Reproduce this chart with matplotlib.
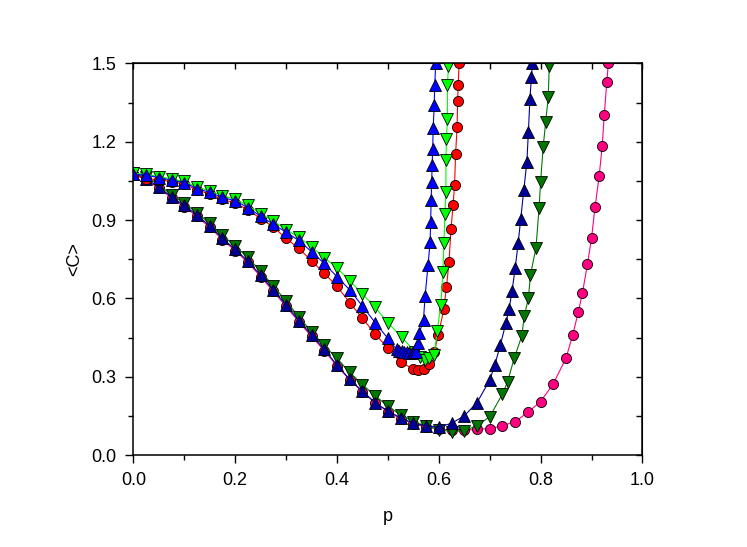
import numpy as np
import matplotlib
matplotlib.use('Agg')
import matplotlib.pyplot as plt
from matplotlib.ticker import MultipleLocator

plt.rcParams['font.family'] = ['Liberation Sans', 'DejaVu Sans']

# upper branch
p_red = [0, 0.025, 0.05, 0.075, 0.1, 0.125, 0.15, 0.175, 0.2, 0.225, 0.25, 0.275, 0.3,
         0.325, 0.35, 0.375, 0.4, 0.425, 0.45, 0.475, 0.5, 0.525, 0.55, 0.56, 0.57, 0.581,
         0.591, 0.599, 0.61, 0.615, 0.62, 0.624, 0.628, 0.631, 0.633, 0.636, 0.637, 0.638, 0.64]
c_red = [1.075, 1.058, 1.055, 1.047, 1.038, 1.015, 1.0, 0.98, 0.965, 0.94, 0.906, 0.874, 0.83,
         0.792, 0.744, 0.696, 0.647, 0.584, 0.524, 0.464, 0.409, 0.356, 0.33, 0.326, 0.33, 0.348,
         0.393, 0.46, 0.56, 0.642, 0.738, 0.866, 0.956, 1.033, 1.152, 1.258, 1.355, 1.416, 1.5]

p_blue = [0, 0.025, 0.05, 0.075, 0.1, 0.125, 0.15, 0.175, 0.2, 0.225, 0.25, 0.275, 0.3,
          0.325, 0.35, 0.375, 0.4, 0.425, 0.45, 0.475, 0.5, 0.517, 0.522, 0.527, 0.532, 0.537,
          0.542, 0.547, 0.552, 0.556, 0.56, 0.562, 0.57, 0.573, 0.579, 0.583, 0.584, 0.585,
          0.586, 0.587, 0.588, 0.589, 0.591, 0.592, 0.594]
c_blue = [1.076, 1.072, 1.063, 1.053, 1.044, 1.021, 1.006, 0.987, 0.974, 0.948, 0.915, 0.884, 0.854,
          0.822, 0.779, 0.734, 0.683, 0.633, 0.571, 0.507, 0.447, 0.405, 0.4, 0.397, 0.395, 0.393,
          0.392, 0.392, 0.393, 0.396, 0.43, 0.468, 0.519, 0.608, 0.729, 0.818, 0.894, 0.977,
          1.047, 1.11, 1.174, 1.254, 1.34, 1.416, 1.5]

p_lgreen = [0, 0.025, 0.05, 0.075, 0.1, 0.125, 0.15, 0.175, 0.2, 0.225, 0.25, 0.275, 0.3,
            0.325, 0.35, 0.375, 0.4, 0.425, 0.45, 0.475, 0.5, 0.527, 0.553, 0.563, 0.573, 0.581,
            0.591, 0.597, 0.604, 0.608, 0.61, 0.612, 0.614, 0.614, 0.615, 0.617, 0.617, 0.619]
c_lgreen = [1.08, 1.075, 1.067, 1.058, 1.048, 1.027, 1.012, 0.994, 0.98, 0.956, 0.925, 0.896, 0.864,
            0.834, 0.798, 0.756, 0.717, 0.668, 0.617, 0.566, 0.507, 0.452, 0.396, 0.377, 0.364, 0.37,
            0.384, 0.475, 0.576, 0.7, 0.812, 0.922, 1.009, 1.13, 1.209, 1.289, 1.416, 1.492]

# lower branch
p_navy = [0, 0.025, 0.05, 0.075, 0.1, 0.125, 0.15, 0.175, 0.2, 0.225, 0.25, 0.275, 0.3,
          0.325, 0.35, 0.375, 0.4, 0.425, 0.45, 0.475, 0.5, 0.525, 0.55, 0.575, 0.6, 0.625,
          0.65, 0.675, 0.7, 0.71, 0.721, 0.732, 0.738, 0.744, 0.75, 0.756, 0.761, 0.767,
          0.773, 0.776, 0.779, 0.782, 0.784]
c_navy = [1.078, 1.059, 1.027, 0.989, 0.957, 0.919, 0.878, 0.83, 0.788, 0.743, 0.689, 0.632, 0.575,
          0.515, 0.46, 0.405, 0.345, 0.29, 0.245, 0.201, 0.169, 0.143, 0.122, 0.112, 0.107, 0.122,
          0.15, 0.201, 0.287, 0.345, 0.422, 0.507, 0.558, 0.63, 0.715, 0.813, 0.906, 1.015,
          1.123, 1.237, 1.365, 1.448, 1.5]

p_dgreen = [0, 0.025, 0.05, 0.075, 0.1, 0.125, 0.15, 0.175, 0.2, 0.225, 0.25, 0.275, 0.3,
            0.325, 0.35, 0.375, 0.4, 0.425, 0.45, 0.475, 0.5, 0.525, 0.55, 0.575, 0.6, 0.625,
            0.65, 0.675, 0.7, 0.725, 0.735, 0.748, 0.763, 0.768, 0.776, 0.78, 0.791, 0.797,
            0.8, 0.805, 0.81, 0.815, 0.817]
c_dgreen = [1.08, 1.065, 1.035, 0.997, 0.965, 0.928, 0.888, 0.842, 0.8, 0.757, 0.704, 0.648, 0.59,
            0.53, 0.472, 0.42, 0.37, 0.317, 0.27, 0.227, 0.188, 0.154, 0.128, 0.112, 0.097, 0.09,
            0.094, 0.112, 0.147, 0.234, 0.28, 0.37, 0.456, 0.534, 0.6, 0.69, 0.795, 0.948,
            1.046, 1.18, 1.276, 1.371, 1.492]

p_pink = [0, 0.025, 0.05, 0.075, 0.1, 0.125, 0.15, 0.175, 0.2, 0.225, 0.25, 0.275, 0.3,
          0.325, 0.35, 0.375, 0.4, 0.425, 0.45, 0.475, 0.5, 0.525, 0.55, 0.575, 0.6, 0.625,
          0.65, 0.675, 0.7, 0.725, 0.75, 0.775, 0.8, 0.825, 0.85, 0.863, 0.874, 0.882, 0.892,
          0.9, 0.907, 0.915, 0.921, 0.925, 0.93, 0.933]
c_pink = [1.075, 1.055, 1.022, 0.985, 0.952, 0.914, 0.873, 0.825, 0.783, 0.738, 0.684, 0.627, 0.57,
          0.51, 0.455, 0.4, 0.342, 0.288, 0.242, 0.2, 0.166, 0.14, 0.12, 0.108, 0.1, 0.096,
          0.095, 0.099, 0.101, 0.113, 0.128, 0.164, 0.205, 0.273, 0.372, 0.46, 0.547, 0.619,
          0.731, 0.83, 0.951, 1.068, 1.184, 1.301, 1.429, 1.5]

fig = plt.figure(figsize=(7.47, 5.47), dpi=100)
ax = fig.add_axes([0.1785, 0.168, 0.6815, 0.716])

def draw(p, c, col, mk, ms):
    ax.plot(p, c, '-', color=col, lw=0.8, marker=mk, ms=ms, mfc=col, mec='black', mew=0.6)

draw(p_pink, c_pink, '#ff0080', 'o', 7.3)
draw(p_dgreen, c_dgreen, '#007700', 'v', 8.5)
draw(p_navy, c_navy, '#000099', '^', 8.5)
draw(p_red, c_red, '#ff0000', 'o', 7.3)
draw(p_lgreen, c_lgreen, '#00ff00', 'v', 8.5)
draw(p_blue, c_blue, '#0000ff', '^', 8.5)

ax.set_xlim(0, 1.0)
ax.set_ylim(0, 1.5)
ax.xaxis.set_major_locator(MultipleLocator(0.2))
ax.xaxis.set_minor_locator(MultipleLocator(0.1))
ax.yaxis.set_major_locator(MultipleLocator(0.3))
ax.yaxis.set_minor_locator(MultipleLocator(0.15))
ax.xaxis.set_major_formatter(plt.FormatStrFormatter('%.1f'))
ax.yaxis.set_major_formatter(plt.FormatStrFormatter('%.1f'))
ax.tick_params(which='major', direction='out', length=6, width=1, labelsize=13, pad=6)
ax.tick_params(which='minor', direction='out', length=3.5, width=1)
for s in ax.spines.values():
    s.set_linewidth(1.1)

top = ax.secondary_xaxis('top')
top.xaxis.set_major_locator(MultipleLocator(0.1))
top.tick_params(direction='in', length=4, width=1, labeltop=False)
right = ax.secondary_yaxis('right')
right.yaxis.set_major_locator(MultipleLocator(0.15))
right.tick_params(direction='in', length=4, width=1, labelright=False)

ax.set_xlabel('p', fontsize=13, labelpad=14)
ax.set_ylabel('<C>', fontsize=13, labelpad=6)

fig.savefig('out.png', dpi=100)
